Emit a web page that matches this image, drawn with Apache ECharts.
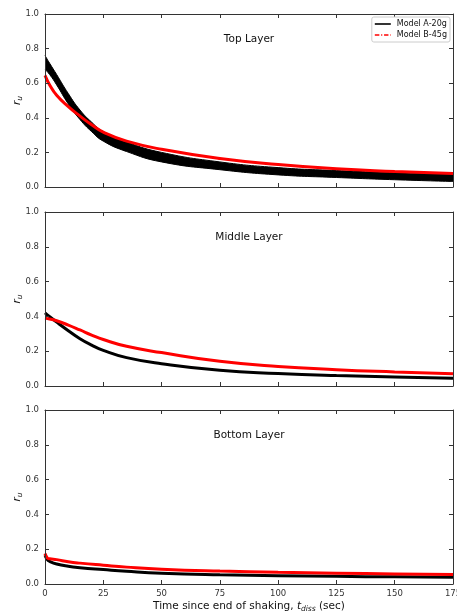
<!DOCTYPE html>
<html>
<head>
<meta charset="utf-8">
<script src="https://cdn.jsdelivr.net/npm/echarts@6/dist/echarts.min.js"></script>
<style>
  html, body { margin: 0; padding: 0; background: #fff; }
  #chart { width: 457px; height: 612px; }
</style>
</head>
<body>
<div id="chart"></div>
<script>
// time axis (sec) for each panel
var tTop = [0, 2, 5, 10, 15, 20, 25, 35, 50, 75, 100, 125, 150, 175];
var tMid = [0, 2, 5, 10, 15, 20, 25, 35, 50, 75, 100, 125, 150, 175];
var tBot = [0, 1, 2, 5, 10, 15, 25, 35, 50, 75, 100, 125, 150, 175];

// top layer: Model A is a noisy band, kept as upper / lower envelope
var topAUpper = [0.76, 0.715, 0.65, 0.54, 0.445, 0.375, 0.32, 0.26, 0.20, 0.145, 0.112, 0.095, 0.083, 0.075];
var topALower = [0.68, 0.65, 0.59, 0.48, 0.39, 0.32, 0.265, 0.205, 0.145, 0.10, 0.07, 0.055, 0.042, 0.032];
var topB = [0.645, 0.59, 0.53, 0.465, 0.41, 0.36, 0.317, 0.265, 0.218, 0.165, 0.13, 0.105, 0.09, 0.078];

// middle layer
var midA = [0.42, 0.398, 0.367, 0.318, 0.272, 0.235, 0.205, 0.163, 0.128, 0.09, 0.072, 0.06, 0.052, 0.045];
var midB = [0.39, 0.385, 0.375, 0.35, 0.322, 0.293, 0.267, 0.228, 0.192, 0.142, 0.112, 0.094, 0.081, 0.07];

// bottom layer
var botA = [0.165, 0.14, 0.13, 0.115, 0.102, 0.094, 0.083, 0.073, 0.062, 0.053, 0.048, 0.044, 0.041, 0.039];
var botB = [0.175, 0.15, 0.145, 0.14, 0.128, 0.12, 0.108, 0.097, 0.085, 0.074, 0.067, 0.062, 0.058, 0.055];

var layerNames = ['Top Layer', 'Middle Layer', 'Bottom Layer'];

function pairs(t, v) {
  return t.map(function (x, i) { return [x, v[i]]; });
}

var chart = echarts.init(document.getElementById('chart'));

var frame = '#333';
var grids = [
  { left: 45, right: 4, top: 14, height: 173, outerBoundsMode: 'none' },
  { left: 45, right: 4, top: 212, height: 174, outerBoundsMode: 'none' },
  { left: 45, right: 4, top: 410, height: 174, outerBoundsMode: 'none' }
];

var xAxes = [], yAxes = [];
grids.forEach(function (g, i) {
  // bottom x
  xAxes.push({
    type: 'value', gridIndex: i, min: 0, max: 175, interval: 25, z: 10,
    axisLine: { show: true, onZero: false, lineStyle: { color: frame, width: 1 } },
    axisTick: { show: true, inside: true, length: 4, lineStyle: { color: frame } },
    axisLabel: { show: i === 2, color: '#333', fontSize: 8.5, margin: 5 },
    splitLine: { show: false },
    name: i === 2 ? '{n|Time since end of shaking, }{i|t}{s|diss}{n| (sec)}' : '',
    nameLocation: 'middle', nameGap: 16, nameMoveOverlap: false,
    nameTextStyle: {
      rich: {
        n: { fontSize: 10.5, color: '#111', fontFamily: 'DejaVu Sans' },
        i: { fontSize: 10.5, color: '#111', fontStyle: 'italic', fontFamily: 'DejaVu Sans' },
        s: { fontSize: 7.5, color: '#111', fontStyle: 'italic', fontFamily: 'DejaVu Sans', padding: [5, 0, 0, 0] }
      }
    }
  });
  // top x (frame + inward ticks)
  xAxes.push({
    type: 'value', gridIndex: i, position: 'top', min: 0, max: 175, interval: 25, z: 10,
    axisLine: { show: true, onZero: false, lineStyle: { color: frame, width: 1 } },
    axisTick: { show: true, inside: true, length: 4, lineStyle: { color: frame } },
    axisLabel: { show: false }, splitLine: { show: false }
  });
  // left y
  yAxes.push({
    type: 'value', gridIndex: i, min: 0, max: 1, interval: 0.2, z: 10,
    axisLine: { show: true, onZero: false, lineStyle: { color: frame, width: 1 } },
    axisTick: { show: true, inside: true, length: 4, lineStyle: { color: frame } },
    axisLabel: { color: '#333', fontSize: 8.5, margin: 6, formatter: function (v) { return v.toFixed(1); } },
    splitLine: { show: false },
    name: '{i|r}{s|u}', nameLocation: 'middle', nameRotate: 90, nameGap: 21, nameMoveOverlap: false,
    nameTextStyle: {
      rich: {
        i: { fontSize: 10.5, color: '#111', fontStyle: 'italic', fontFamily: 'DejaVu Sans' },
        s: { fontSize: 7.5, color: '#111', fontStyle: 'italic', fontFamily: 'DejaVu Sans', padding: [5, 0, 0, 0] }
      }
    }
  });
  // right y
  yAxes.push({
    type: 'value', gridIndex: i, position: 'right', min: 0, max: 1, interval: 0.2, z: 10,
    axisLine: { show: true, onZero: false, lineStyle: { color: frame, width: 1 } },
    axisTick: { show: true, inside: true, length: 4, lineStyle: { color: frame } },
    axisLabel: { show: false }, splitLine: { show: false }
  });
});

var red = '#ff0000';
function curve(name, xi, t, v, color, z) {
  return {
    name: name, type: 'line', xAxisIndex: xi, yAxisIndex: xi,
    data: pairs(t, v), smooth: true, symbol: 'none',
    lineStyle: { color: color, width: 3 }, itemStyle: { color: color }, z: z
  };
}

var series = [
  // top layer, Model A band: black area under the upper envelope,
  // then white area under the lower envelope
  {
    name: 'Model A-20g', type: 'line', xAxisIndex: 0, yAxisIndex: 0,
    data: pairs(tTop, topAUpper), smooth: true, symbol: 'none',
    lineStyle: { color: '#000', width: 1 }, itemStyle: { color: '#000' },
    areaStyle: { color: '#000', opacity: 1, origin: 'start' }, z: 1
  },
  {
    name: 'lowerA', type: 'line', xAxisIndex: 0, yAxisIndex: 0,
    data: pairs(tTop, topALower), smooth: true, symbol: 'none',
    lineStyle: { color: '#000', width: 1 },
    areaStyle: { color: '#fff', opacity: 1, origin: 'start' }, silent: true, z: 2
  },
  curve('Model B-45g', 0, tTop, topB, red, 3),
  // middle layer
  curve('Model A-20g', 2, tMid, midA, '#000', 2),
  curve('Model B-45g', 2, tMid, midB, red, 3),
  // bottom layer
  curve('Model A-20g', 4, tBot, botA, '#000', 2),
  curve('Model B-45g', 4, tBot, botB, red, 3)
];

var titleY = [34, 232, 430];
var titles = layerNames.map(function (n, i) {
  return {
    type: 'text', x: 249, y: titleY[i], z: 20,
    style: { text: n, fill: '#111', fontSize: 10.5, fontFamily: 'DejaVu Sans', align: 'center', verticalAlign: 'top' }
  };
});

chart.setOption({
  animation: false,
  textStyle: { fontFamily: 'DejaVu Sans' },
  grid: grids,
  xAxis: xAxes,
  yAxis: yAxes,
  legend: {
    right: 7, top: 17, orient: 'vertical', itemGap: 3, z: 20,
    itemWidth: 16, itemHeight: 8, padding: [3, 3, 3, 3],
    borderColor: '#ccc', borderWidth: 1, borderRadius: 2, backgroundColor: '#fff',
    textStyle: { fontSize: 8, color: '#111', padding: [0, 0, 0, 1] },
    data: [
      { name: 'Model A-20g', icon: 'path://M0,0 L16,0 L16,1.6 L0,1.6 Z', itemStyle: { color: '#000' } },
      { name: 'Model B-45g', icon: 'path://M0,0 L5,0 L5,1.6 L0,1.6 Z M7,0 L8.2,0 L8.2,1.6 L7,1.6 Z M10.2,0 L15,0 L15,1.6 L10.2,1.6 Z M17,0 L17.6,0 L17.6,1.6 L17,1.6 Z', itemStyle: { color: red } }
    ]
  },
  graphic: titles,
  series: series
});
</script>
</body>
</html>
